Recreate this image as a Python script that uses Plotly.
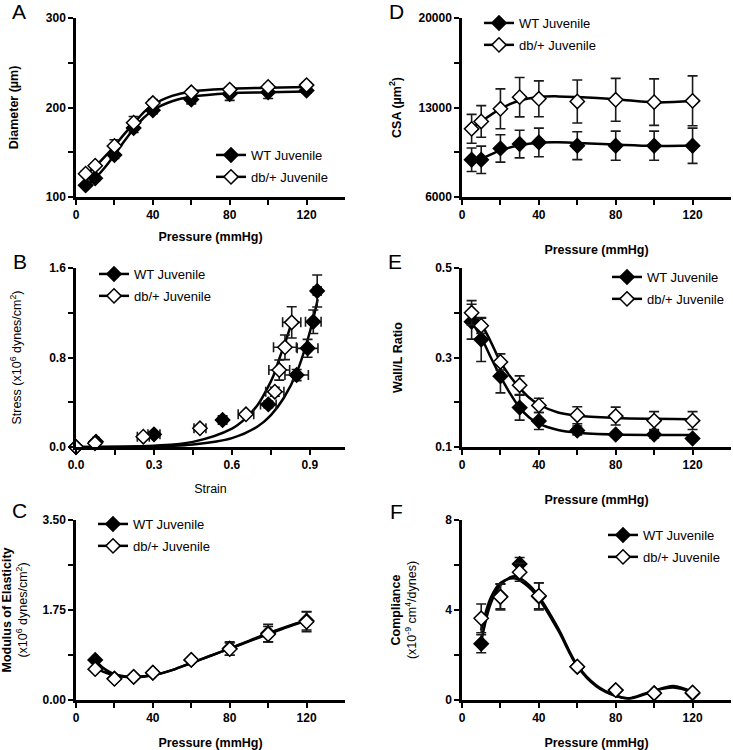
import plotly.graph_objects as go

FONT = "Liberation Sans, Arial, Helvetica, sans-serif"

# ---------------- data ----------------
pressure = [5, 10, 20, 30, 40, 60, 80, 100, 120]
pressure_cf = [10, 20, 30, 40, 60, 80, 100, 120]
fit_p = [5, 10, 15, 20, 25, 30, 35, 40, 50, 60, 80, 100, 120]

# A: Diameter (um)
diam_wt = [113, 121, 147, 177, 197, 209, 215, 217, 219]
diam_wt_err = [2, 3, 4, 5, 4, 5, 7, 7, 3]
diam_db = [126, 135, 157, 183, 205, 217, 220, 223, 225]
diam_db_err = [3, 3, 7, 7, 4, 3, 3, 3, 3]
diam_fit_wt = [112, 121, 133, 147, 162, 176, 188, 197, 207, 212, 216, 217, 218]
diam_fit_db = [125, 134, 145, 157, 170, 182, 194, 203, 213, 218, 221, 222, 223]

# B: Stress-strain
strain_wt = [0, 0.077, 0.30, 0.564, 0.74, 0.849, 0.891, 0.913, 0.928]
stress_wt = [0, 0.047, 0.113, 0.241, 0.381, 0.643, 0.882, 1.12, 1.394]
strain_wt_err = [0, 0.012, 0.023, 0.016, 0.03, 0.045, 0.04, 0.03, 0.015]
stress_wt_err = [0, 0.01, 0.02, 0.02, 0.03, 0.05, 0.08, 0.105, 0.143]
strain_db = [0, 0.073, 0.259, 0.477, 0.654, 0.765, 0.782, 0.804, 0.83]
stress_db = [0, 0.033, 0.092, 0.167, 0.292, 0.494, 0.688, 0.891, 1.114]
strain_db_err = [0, 0.01, 0.023, 0.023, 0.03, 0.035, 0.04, 0.044, 0.035]
stress_db_err = [0, 0.01, 0.01, 0.01, 0.02, 0.04, 0.09, 0.11, 0.14]
fit_strain_wt = [0, 0.3, 0.45, 0.6, 0.7, 0.75, 0.8, 0.85, 0.9, 0.93]
fit_stress_wt = [0, 0.006, 0.022, 0.079, 0.185, 0.285, 0.44, 0.67, 1.03, 1.32]
fit_strain_db = [0, 0.3, 0.45, 0.6, 0.65, 0.7, 0.733, 0.76, 0.785, 0.81, 0.835]
fit_stress_db = [0, 0.012, 0.046, 0.164, 0.25, 0.38, 0.51, 0.64, 0.807, 0.97, 1.15]

# C: Modulus of elasticity
mod_wt = [0.78, 0.42, 0.45, 0.53, 0.78, 1.00, 1.30, 1.54]
mod_wt_err = [0.03, 0.03, 0.03, 0.03, 0.04, 0.13, 0.17, 0.18]
mod_db = [0.60, 0.41, 0.45, 0.53, 0.78, 0.99, 1.28, 1.52]
mod_db_err = [0.03, 0.03, 0.03, 0.03, 0.04, 0.12, 0.15, 0.19]
fit_p_c = [10, 15, 20, 25, 30, 40, 50, 60, 70, 80, 90, 100, 110, 120]
mod_fit_wt = [0.77, 0.60, 0.50, 0.46, 0.45, 0.48, 0.58, 0.72, 0.86, 1.00, 1.15, 1.30, 1.43, 1.55]
mod_fit_db = [0.62, 0.54, 0.48, 0.45, 0.44, 0.48, 0.58, 0.72, 0.86, 1.00, 1.14, 1.28, 1.42, 1.54]

# D: CSA (um^2)
csa_wt = [8910, 8910, 9800, 10140, 10270, 10010, 10010, 10010, 10010]
csa_wt_err = [920, 1070, 1070, 1080, 1120, 1090, 1140, 1140, 1380]
csa_db = [11330, 11910, 12900, 13810, 13680, 13470, 13600, 13420, 13520]
csa_db_err = [1130, 1240, 1560, 1540, 1400, 1680, 1680, 1820, 1950]
fit_p_d = [5, 10, 20, 30, 40, 50, 60, 80, 100, 120]
csa_fit_wt = [8900, 9000, 9650, 10050, 10250, 10280, 10230, 10100, 10000, 10030]
csa_fit_db = [11330, 11900, 12900, 13550, 13830, 13870, 13820, 13650, 13400, 13500]

# E: Wall/lumen ratio
wl_wt = [0.380, 0.340, 0.258, 0.188, 0.158, 0.137, 0.128, 0.128, 0.119]
wl_wt_err = [0.039, 0.049, 0.037, 0.028, 0.019, 0.01, 0.005, 0.008, 0.005]
wl_db = [0.400, 0.371, 0.290, 0.238, 0.193, 0.171, 0.169, 0.159, 0.159]
wl_db_err = [0.027, 0.017, 0.018, 0.021, 0.016, 0.019, 0.02, 0.02, 0.02]
wl_fit_wt = [0.38, 0.345, 0.30, 0.258, 0.22, 0.188, 0.166, 0.152, 0.138, 0.132, 0.128, 0.127, 0.127]
wl_fit_db = [0.40, 0.375, 0.335, 0.29, 0.258, 0.232, 0.21, 0.195, 0.177, 0.17, 0.165, 0.163, 0.162]

# F: Compliance
comp_wt = [2.50, 4.60, 6.05, 4.60, 1.48, 0.44, 0.30, 0.30]
comp_wt_err = [0.40, 0.55, 0.28, 0.60, 0.10, 0.08, 0.05, 0.05]
comp_db = [3.63, 4.58, 5.68, 4.63, 1.48, 0.44, 0.30, 0.33]
comp_db_err = [0.64, 0.58, 0.40, 0.58, 0.10, 0.08, 0.05, 0.05]
fit_p_f = [10, 15, 20, 25, 28, 35, 40, 50, 60, 70, 80, 87, 95, 100, 110, 120]
comp_fit_wt = [2.6, 4.3, 5.1, 5.45, 5.5, 5.1, 4.6, 3.2, 1.55, 0.65, 0.2, 0.07, 0.25, 0.4, 0.62, 0.35]
comp_fit_db = [3.1, 4.55, 5.2, 5.4, 5.4, 5.0, 4.5, 3.1, 1.5, 0.6, 0.18, 0.08, 0.28, 0.42, 0.56, 0.35]

pressure_ticks = [0, 20, 40, 60, 80, 100, 120]
pressure_ticktext = ["0", "", "40", "", "80", "", "120"]

names = ["WT Juvenile", "db/+ Juvenile"]

# ---------------- layout geometry ----------------
W, H = 733, 750
def fx(px):
    return px / W
def fy(py):
    return 1 - py / H

col_x = [(76, 345), (462, 731)]
row_y = [(18, 197), (268, 447), (520, 700)]

fig = go.Figure()

MK = 11
LW = 2.5
EBC = "#1a1a1a"

def add_panel(idx, x_wt, y_wt, e_wt, x_db, y_db, e_db, fx_wt, fy_wt, fx_db, fy_db,
              ex_wt=None, ex_db=None, one_sided=False):
    xa = "x" if idx == 1 else f"x{idx}"
    ya = "y" if idx == 1 else f"y{idx}"
    lg = "legend" if idx == 1 else f"legend{idx}"
    fig.add_trace(go.Scatter(x=fx_wt, y=fy_wt, mode="lines", line=dict(color="black", width=LW, shape="spline"),
                             xaxis=xa, yaxis=ya, showlegend=False, hoverinfo="skip"))
    fig.add_trace(go.Scatter(x=fx_db, y=fy_db, mode="lines", line=dict(color="black", width=LW, shape="spline"),
                             xaxis=xa, yaxis=ya, showlegend=False, hoverinfo="skip"))
    for name, xs, ys, es, exs, fill in [(names[0], x_wt, y_wt, e_wt, ex_wt, "black"),
                                         (names[1], x_db, y_db, e_db, ex_db, "white")]:
        if one_sided:
            if fill == "black":
                ey = dict(type="data", symmetric=False, array=[0] * len(es), arrayminus=es,
                          color=EBC, thickness=1.6, width=5)
            else:
                ey = dict(type="data", symmetric=False, array=es, arrayminus=[0] * len(es),
                          color=EBC, thickness=1.6, width=5)
        else:
            ey = dict(type="data", array=es, color=EBC, thickness=1.6, width=5)
        ex = None
        if exs is not None:
            ex = dict(type="data", array=exs, color=EBC, thickness=1.6, width=5)
        fig.add_trace(go.Scatter(
            x=xs, y=ys, mode="markers", name=name,
            marker=dict(symbol="diamond", size=MK, color=fill, line=dict(color="black", width=1.5)),
            error_y=ey, error_x=ex, cliponaxis=False,
            xaxis=xa, yaxis=ya, showlegend=False))
    for k, fill in enumerate(["black", "white"]):
        fig.add_trace(go.Scatter(
            x=[None], y=[None], mode="lines+markers", name=names[k],
            line=dict(color="black", width=LW),
            marker=dict(symbol="diamond", size=MK, color=fill, line=dict(color="black", width=1.5)),
            xaxis=xa, yaxis=ya, legend=lg, legendgroup=f"{lg}_{k}", showlegend=True))

add_panel(1, pressure, diam_wt, diam_wt_err, pressure, diam_db, diam_db_err,
          fit_p, diam_fit_wt, fit_p, diam_fit_db, one_sided=True)
add_panel(2, strain_wt, stress_wt, stress_wt_err, strain_db, stress_db, stress_db_err,
          fit_strain_wt, fit_stress_wt, fit_strain_db, fit_stress_db,
          ex_wt=strain_wt_err, ex_db=strain_db_err)
add_panel(3, pressure_cf, mod_wt, mod_wt_err, pressure_cf, mod_db, mod_db_err,
          fit_p_c, mod_fit_wt, fit_p_c, mod_fit_db)
add_panel(4, pressure, csa_wt, csa_wt_err, pressure, csa_db, csa_db_err,
          fit_p_d, csa_fit_wt, fit_p_d, csa_fit_db)
add_panel(5, pressure, wl_wt, wl_wt_err, pressure, wl_db, wl_db_err,
          fit_p, wl_fit_wt, fit_p, wl_fit_db)
add_panel(6, pressure_cf, comp_wt, comp_wt_err, pressure_cf, comp_db, comp_db_err,
          fit_p_f, comp_fit_wt, fit_p_f, comp_fit_db)

def axis_common():
    return dict(showline=True, linecolor="black", linewidth=2.5, ticks="outside", ticklen=5,
                tickwidth=2, tickcolor="black", showgrid=False, zeroline=False, automargin=False,
                tickfont=dict(family=FONT, size=12, color="black", weight="bold"),
                fixedrange=True)

specs = {
    1: (0, 0, [0, 140], pressure_ticks, pressure_ticktext, "<b>Pressure (mmHg)</b>", 12,
        [100, 300], [100, 150, 200, 250, 300], ["100", "", "200", "", "300"], "<b>Diameter (µm)</b>", 25),
    2: (0, 1, [0, 1.035], [0, 0.15, 0.3, 0.45, 0.6, 0.75, 0.9], ["0.0", "", "0.3", "", "0.6", "", "0.9"],
        "Strain", 14,
        [0, 1.6], [0, 0.4, 0.8, 1.2, 1.6], ["0.0", "", "0.8", "", "1.6"],
        "Stress (x10<sup>6</sup> dynes/cm<sup>2</sup>)", 25),
    3: (0, 2, [0, 140], pressure_ticks, pressure_ticktext, "<b>Pressure (mmHg)</b>", 17,
        [0, 3.5], [0, 0.875, 1.75, 2.625, 3.5], ["0.00", "", "1.75", "", "3.50"],
        "<b>Modulus of Elasticity</b><br>(x10<sup>6</sup> dynes/cm<sup>2</sup>)", 18),
    4: (1, 0, [0, 140], pressure_ticks, pressure_ticktext, "<b>Pressure (mmHg)</b>", 25,
        [6000, 20000], [6000, 9500, 13000, 16500, 20000], ["6000", "", "13000", "", "20000"],
        "<b>CSA (µm<sup>2</sup>)</b>", 15),
    5: (1, 1, [0, 140], pressure_ticks, pressure_ticktext, "<b>Pressure (mmHg)</b>", 25,
        [0.1, 0.5], [0.1, 0.2, 0.3, 0.4, 0.5], ["0.1", "", "0.3", "", "0.5"],
        "<b>Wall/L Ratio</b>", 30),
    6: (1, 2, [0, 140], pressure_ticks, pressure_ticktext, "<b>Pressure (mmHg)</b>", 22,
        [0, 8], [0, 2, 4, 6, 8], ["0", "", "4", "", "8"],
        "<b>Compliance</b><br>(x10<sup>-9</sup> cm<sup>4</sup>/dynes)", 26),
}

layout = dict(width=W, height=H, margin=dict(l=0, r=0, t=0, b=0, autoexpand=False),
              paper_bgcolor="white", plot_bgcolor="white",
              font=dict(family=FONT, color="black", size=12), showlegend=True)

for idx, s in specs.items():
    col, row, xr, xt, xtt, xtitle, xst, yr, yt, ytt, ytitle, yst = s
    xk = "xaxis" if idx == 1 else f"xaxis{idx}"
    yk = "yaxis" if idx == 1 else f"yaxis{idx}"
    xa = "x" if idx == 1 else f"x{idx}"
    ya = "y" if idx == 1 else f"y{idx}"
    x0, x1 = col_x[col]
    y0, y1 = row_y[row]
    xd = axis_common()
    xd.update(domain=[fx(x0), fx(x1)], range=xr, tickvals=xt, ticktext=xtt, anchor=ya,
              title=dict(text=xtitle, standoff=xst, font=dict(family=FONT, size=12.5, color="black")))
    yd = axis_common()
    yd.update(domain=[fy(y1), fy(y0)], range=yr, tickvals=yt, ticktext=ytt, anchor=xa,
              title=dict(text=ytitle, standoff=yst, font=dict(family=FONT, size=12.5, color="black")))
    layout[xk] = xd
    layout[yk] = yd

# legends: (idx, sample-left px, first-row center px)
legend_pos = {1: (211, 152), 2: (94, 271), 3: (93, 521), 4: (479, 20), 5: (607, 274), 6: (603, 532)}
for idx, (lx, ly) in legend_pos.items():
    lk = "legend" if idx == 1 else f"legend{idx}"
    layout[lk] = dict(x=fx(lx), y=fy(ly - 12), xanchor="left", yanchor="top",
                      bgcolor="rgba(0,0,0,0)", borderwidth=0, traceorder="grouped", tracegroupgap=2,
                      font=dict(family=FONT, size=13, color="black"), itemclick=False, itemdoubleclick=False)

fig.update_layout(**layout)

letters = [("A", 10, 11), ("B", 11, 261), ("C", 10, 510), ("D", 387, 11), ("E", 386, 261), ("F", 388, 511)]
for t, px, py in letters:
    fig.add_annotation(text=t, x=fx(px), y=fy(py), xref="paper", yref="paper", xanchor="left", yanchor="middle",
                       showarrow=False, font=dict(family=FONT, size=21, color="black"))

fig.write_html("out.html", config={"displayModeBar": False},
               post_script="document.body.style.margin='0';document.body.style.overflow='hidden';")
